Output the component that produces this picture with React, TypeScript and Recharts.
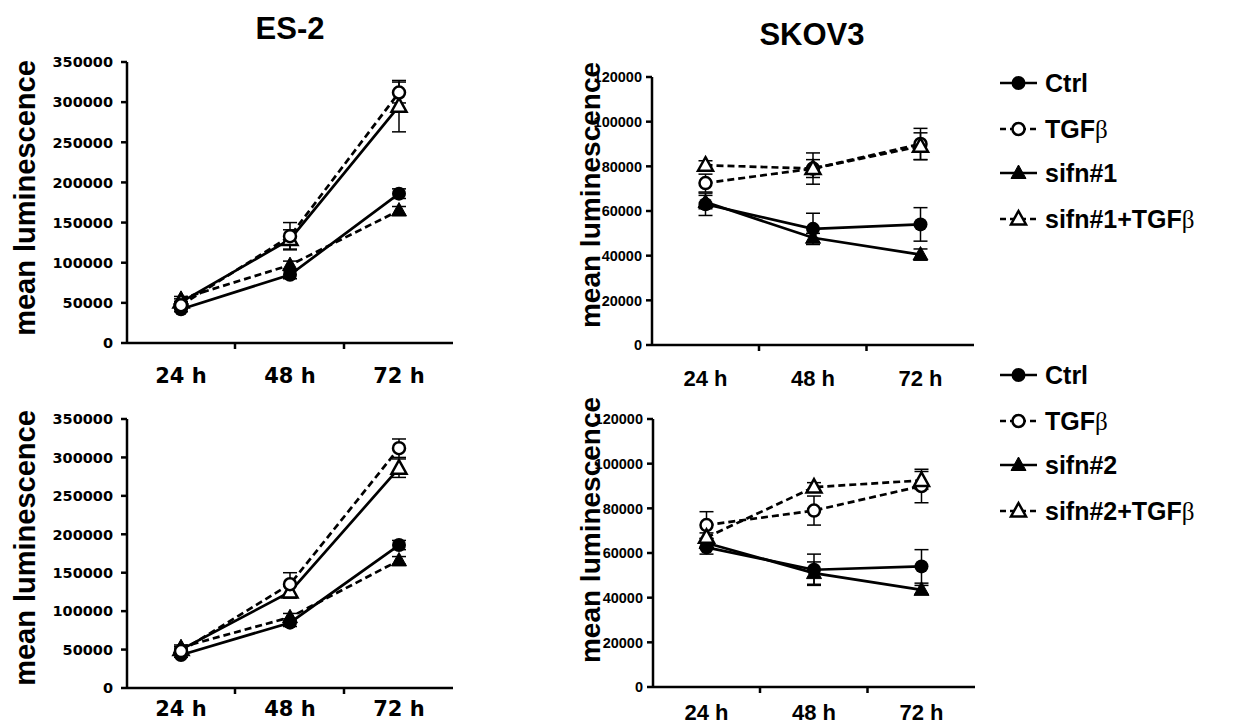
import React from "react";
import { LineChart, Line, XAxis, YAxis, ErrorBar } from "recharts";

const times = ["24 h", "48 h", "72 h"];

const es2Ticks = [0, 50000, 100000, 150000, 200000, 250000, 300000, 350000];
const skovTicks = [0, 20000, 40000, 60000, 80000, 100000, 120000];

// ES-2, sifn#1
const es2aCtrl = [42000, 85000, 186000];
const es2aCtrlErr = [3000, 5000, 6000];
const es2aTgf = [47000, 133000, 312000];
const es2aTgfErr = [4000, 17000, 13000];
const es2aSi = [55000, 97000, 165000];
const es2aSiErr = [3000, 5000, 5000];
const es2aSiTgf = [51000, 129000, 295000];
const es2aSiTgfErr = [4000, 12000, 32000];

// SKOV3, sifn#1
const skaCtrl = [63000, 52000, 54000];
const skaCtrlErr = [5000, 7000, 7500];
const skaTgf = [72500, 79000, 90000];
const skaTgfErr = [4000, 4000, 7000];
const skaSi = [64000, 48000, 40500];
const skaSiErr = [3000, 2000, 2500];
const skaSiTgf = [80500, 79000, 89000];
const skaSiTgfErr = [2000, 7000, 6000];

// ES-2, sifn#2
const es2bCtrl = [43000, 85000, 186000];
const es2bCtrlErr = [3000, 5000, 6000];
const es2bTgf = [48000, 135000, 312000];
const es2bTgfErr = [4000, 15000, 12000];
const es2bSi = [53000, 92000, 166000];
const es2bSiErr = [3000, 5000, 5000];
const es2bSiTgf = [50000, 125000, 286000];
const es2bSiTgfErr = [4000, 8000, 12000];

// SKOV3, sifn#2
const skbCtrl = [62500, 52500, 54000];
const skbCtrlErr = [3000, 7000, 7500];
const skbTgf = [72500, 79000, 90000];
const skbTgfErr = [6000, 6500, 7500];
const skbSi = [64500, 51000, 43500];
const skbSiErr = [2000, 5000, 2000];
const skbSiTgf = [67000, 89500, 92500];
const skbSiTgfErr = [2000, 2000, 4000];

type MarkerKind = "fc" | "oc" | "ft" | "ot";
type Series = { key: string; values: number[]; errors: number[]; dashed: boolean; marker: MarkerKind };

const DASH = "7 4";

function Marker({ kind, cx, cy }: { kind: MarkerKind; cx: number; cy: number }) {
  if (cx == null || cy == null) return null;
  if (kind === "fc") return <circle cx={cx} cy={cy} r={7} fill="#000" />;
  if (kind === "oc") return <circle cx={cx} cy={cy} r={6} fill="#fff" stroke="#000" strokeWidth={2.5} />;
  const d = `M${cx},${cy - 8} L${cx + 7.5},${cy + 5.5} L${cx - 7.5},${cy + 5.5} Z`;
  if (kind === "ft") return <path d={d} fill="#000" stroke="#000" strokeWidth={1} />;
  return <path d={d} fill="#fff" stroke="#000" strokeWidth={2.5} strokeLinejoin="miter" />;
}

type PanelProps = {
  left: number;
  top: number;
  width: number;
  height: number;
  marginTop: number;
  marginRight: number;
  yWidth: number;
  xHeight: number;
  yMax: number;
  ticks: number[];
  series: Series[];
  yFont: { family: string; size: number };
  xFont: { family: string; size: number };
  xDy: number;
  halfBand: number;
  yTickMargin: number;
};

function Panel(p: PanelProps) {
  const data = times.map((t, i) => {
    const row: Record<string, string | number> = { t };
    p.series.forEach((s) => {
      row[s.key] = s.values[i];
      row[s.key + "Err"] = s.errors[i];
    });
    return row;
  });

  const XTick = (props: any) => {
    const { x, y, payload, index } = props;
    return (
      <g>
        <text
          x={x}
          y={y + p.xDy}
          textAnchor="middle"
          fontFamily={p.xFont.family}
          fontSize={p.xFont.size}
          fontWeight="bold"
          fill="#000"
        >
          {payload.value}
        </text>
        {index < times.length - 1 && (
          <line x1={x + p.halfBand} y1={y} x2={x + p.halfBand} y2={y + 6} stroke="#000" strokeWidth={2.5} />
        )}
      </g>
    );
  };

  const YTick = (props: any) => {
    const { x, y, payload } = props;
    return (
      <text
        x={x}
        y={y}
        dy="0.36em"
        textAnchor="end"
        fontFamily={p.yFont.family}
        fontSize={p.yFont.size}
        fontWeight="bold"
        fill="#000"
      >
        {payload.value}
      </text>
    );
  };

  return (
    <div style={{ position: "absolute", left: p.left, top: p.top }}>
      <LineChart
        width={p.width}
        height={p.height}
        data={data}
        margin={{ top: p.marginTop, right: p.marginRight, bottom: 0, left: 0 }}
      >
        <XAxis
          dataKey="t"
          height={p.xHeight}
          padding={{ left: p.halfBand, right: p.halfBand }}
          tickLine={false}
          tickSize={0}
          tickMargin={0}
          axisLine={{ stroke: "#000", strokeWidth: 2.5 }}
          tick={XTick}
          interval={0}
        />
        <YAxis
          width={p.yWidth}
          domain={[0, p.yMax]}
          ticks={p.ticks}
          interval={0}
          tickSize={6}
          tickMargin={p.yTickMargin}
          axisLine={{ stroke: "#000", strokeWidth: 2.5 }}
          tickLine={{ stroke: "#000", strokeWidth: 2.5 }}
          tick={YTick}
        />
        {p.series.map((s) => (
          <Line
            key={s.key}
            dataKey={s.key}
            stroke="#000"
            strokeWidth={2.7}
            strokeDasharray={s.dashed ? DASH : undefined}
            isAnimationActive={false}
            dot={(d: any) => <Marker key={`${s.key}-${d.index}`} kind={s.marker} cx={d.cx} cy={d.cy} />}
            activeDot={false}
          >
            <ErrorBar
              dataKey={s.key + "Err"}
              direction="y"
              width={7}
              stroke="#000"
              strokeWidth={1.5}
              isAnimationActive={false}
            />
          </Line>
        ))}
      </LineChart>
    </div>
  );
}

const ES2_Y = { family: "'DejaVu Sans', sans-serif", size: 14.5 };
const ES2_X = { family: "'DejaVu Sans', sans-serif", size: 21 };
const SK_Y = { family: "Arial, 'Liberation Sans', sans-serif", size: 14.5 };
const SK_X = { family: "'Liberation Sans Narrow', 'Liberation Sans', Arial, sans-serif", size: 22 };

const LABEL_FONT = "'Liberation Sans', Arial, sans-serif";

function LegendBlock({ top, names }: { top: number; names: string[] }) {
  const kinds: MarkerKind[] = ["fc", "oc", "ft", "ot"];
  const dashed = [false, true, false, true];
  const gaps = [0, 46, 90, 136];
  return (
    <g>
      {names.map((n, i) => {
        const y = top + gaps[i];
        return (
          <g key={n}>
            <line
              x1={1000}
              y1={y}
              x2={1037}
              y2={y}
              stroke="#000"
              strokeWidth={2.5}
              strokeDasharray={dashed[i] ? "6 4" : undefined}
            />
            <Marker kind={kinds[i]} cx={1018.5} cy={y} />
            <text x={1045} y={y + 9} fontFamily={LABEL_FONT} fontWeight="bold" fontSize={25} fill="#000">
              {n.replace("β", "")}
              {n.includes("β") && (
                <tspan fontFamily="'Liberation Serif', serif" fontWeight="normal">
                  β
                </tspan>
              )}
            </text>
          </g>
        );
      })}
    </g>
  );
}

export default function App() {
  const es2a: Series[] = [
    { key: "ctrl", values: es2aCtrl, errors: es2aCtrlErr, dashed: false, marker: "fc" },
    { key: "si", values: es2aSi, errors: es2aSiErr, dashed: true, marker: "ft" },
    { key: "siTgf", values: es2aSiTgf, errors: es2aSiTgfErr, dashed: false, marker: "ot" },
    { key: "tgf", values: es2aTgf, errors: es2aTgfErr, dashed: true, marker: "oc" },
  ];
  const ska: Series[] = [
    { key: "ctrl", values: skaCtrl, errors: skaCtrlErr, dashed: false, marker: "fc" },
    { key: "si", values: skaSi, errors: skaSiErr, dashed: false, marker: "ft" },
    { key: "tgf", values: skaTgf, errors: skaTgfErr, dashed: true, marker: "oc" },
    { key: "siTgf", values: skaSiTgf, errors: skaSiTgfErr, dashed: true, marker: "ot" },
  ];
  const es2b: Series[] = [
    { key: "ctrl", values: es2bCtrl, errors: es2bCtrlErr, dashed: false, marker: "fc" },
    { key: "si", values: es2bSi, errors: es2bSiErr, dashed: true, marker: "ft" },
    { key: "siTgf", values: es2bSiTgf, errors: es2bSiTgfErr, dashed: false, marker: "ot" },
    { key: "tgf", values: es2bTgf, errors: es2bTgfErr, dashed: true, marker: "oc" },
  ];
  const skb: Series[] = [
    { key: "ctrl", values: skbCtrl, errors: skbCtrlErr, dashed: false, marker: "fc" },
    { key: "si", values: skbSi, errors: skbSiErr, dashed: false, marker: "ft" },
    { key: "tgf", values: skbTgf, errors: skbTgfErr, dashed: true, marker: "oc" },
    { key: "siTgf", values: skbSiTgf, errors: skbSiTgfErr, dashed: true, marker: "ot" },
  ];

  return (
    <div style={{ position: "absolute", left: 0, top: 0, width: 1243, height: 726, background: "#fff", overflow: "hidden" }}>
      <Panel
        left={0}
        top={0}
        width={470}
        height={400}
        marginTop={62}
        marginRight={17}
        yWidth={127}
        xHeight={57}
        yMax={350000}
        ticks={es2Ticks}
        series={es2a}
        yFont={ES2_Y}
        xFont={ES2_X}
        xDy={40}
        halfBand={54}
        yTickMargin={8}
      />
      <Panel
        left={480}
        top={0}
        width={500}
        height={400}
        marginTop={77}
        marginRight={6}
        yWidth={172}
        xHeight={55}
        yMax={120000}
        ticks={skovTicks}
        series={ska}
        yFont={SK_Y}
        xFont={SK_X}
        xDy={41}
        halfBand={53.5}
        yTickMargin={4}
      />
      <Panel
        left={0}
        top={360}
        width={470}
        height={366}
        marginTop={59}
        marginRight={17}
        yWidth={127}
        xHeight={38}
        yMax={350000}
        ticks={es2Ticks}
        series={es2b}
        yFont={ES2_Y}
        xFont={ES2_X}
        xDy={28}
        halfBand={54}
        yTickMargin={8}
      />
      <Panel
        left={480}
        top={360}
        width={500}
        height={366}
        marginTop={59}
        marginRight={5}
        yWidth={173}
        xHeight={39}
        yMax={120000}
        ticks={skovTicks}
        series={skb}
        yFont={SK_Y}
        xFont={SK_X}
        xDy={33}
        halfBand={53.5}
        yTickMargin={4}
      />
      <svg width={1243} height={726} style={{ position: "absolute", left: 0, top: 0, pointerEvents: "none" }}>
        <text x={290} y={39} textAnchor="middle" fontFamily={LABEL_FONT} fontWeight="bold" fontSize={31}>
          ES-2
        </text>
        <text x={812} y={45} textAnchor="middle" fontFamily={LABEL_FONT} fontWeight="bold" fontSize={31}>
          SKOV3
        </text>
        <text x={35} y={198} textAnchor="middle" transform="rotate(-90 35 198)" fontFamily={LABEL_FONT} fontWeight="bold" fontSize={29}>
          mean luminescence
        </text>
        <text x={35} y={548} textAnchor="middle" transform="rotate(-90 35 548)" fontFamily={LABEL_FONT} fontWeight="bold" fontSize={29}>
          mean luminescence
        </text>
        <text x={600} y={195} textAnchor="middle" transform="rotate(-90 600 195)" fontFamily={LABEL_FONT} fontWeight="bold" fontSize={28}>
          mean luminescence
        </text>
        <text x={600} y={530} textAnchor="middle" transform="rotate(-90 600 530)" fontFamily={LABEL_FONT} fontWeight="bold" fontSize={28}>
          mean luminescence
        </text>
        <LegendBlock top={83} names={["Ctrl", "TGFβ", "sifn#1", "sifn#1+TGFβ"]} />
        <LegendBlock top={375} names={["Ctrl", "TGFβ", "sifn#2", "sifn#2+TGFβ"]} />
      </svg>
    </div>
  );
}
